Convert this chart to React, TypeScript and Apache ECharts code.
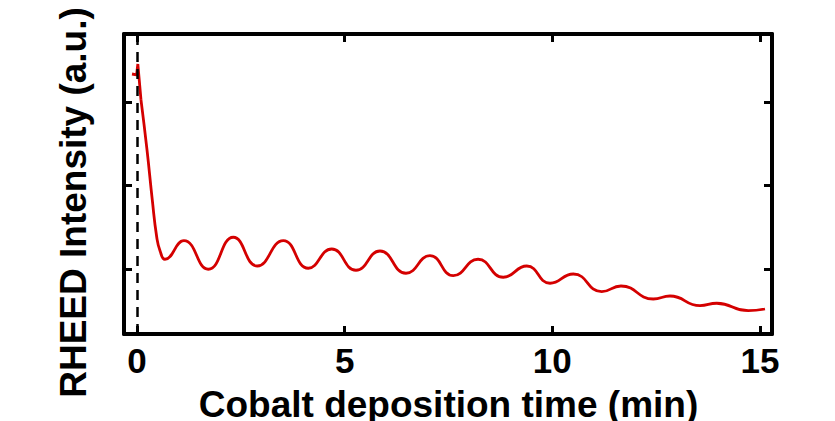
import React, { useEffect, useRef } from "react";
import * as echarts from "echarts";

// Initial spike at shutter opening (min, a.u.)
const spikeTime = [-0.12, -0.01, 0.02, 0.096];
const spikeIntensity = [3.12, 3.11, 3.24, 2.809];

// RHEED oscillations during Co deposition (min, a.u.)
const decayTime = [
  0.096, 0.241, 0.368, 0.474, 0.554, 0.674, 1.13, 1.717, 2.319, 2.897, 3.523,
  4.125, 4.688, 5.273, 5.851, 6.477, 7.055, 7.616, 8.211, 8.82, 9.384, 9.945,
  10.506, 11.19, 11.654, 12.432, 12.834, 13.556, 13.959, 14.719, 15.121,
];
const decayIntensity = [
  2.809, 2.209, 1.609, 1.168, 1.0, 0.897, 1.12, 0.777, 1.161, 0.816, 1.12,
  0.789, 1.02, 0.765, 0.996, 0.729, 0.94, 0.7, 0.897, 0.681, 0.816, 0.609,
  0.72, 0.508, 0.576, 0.42, 0.456, 0.34, 0.369, 0.28, 0.3,
];

const xTicks = [0, 5, 10, 15];
const yTicks = [0.78, 1.78, 2.78];
const shutterTime = 0;

const xTitle = "Cobalt deposition time (min)";
const yTitle = "RHEED Intensity (a.u.)";

const FONT = "'Liberation Sans', Arial, Helvetica, sans-serif";
const RED = "#d40000";

export default function App() {
  const ref = useRef<HTMLDivElement>(null);
  useEffect(() => {
    if (!ref.current) return;
    const chart = echarts.init(ref.current, undefined, { renderer: "svg" });
    const axisLine = { show: true, onZero: false, lineStyle: { color: "#000", width: 4 } };
    const xTick = { show: true, inside: true, length: 8, lineStyle: { color: "#000", width: 3 }, customValues: xTicks };
    const yTick = { show: true, inside: true, length: 8, lineStyle: { color: "#000", width: 3 }, customValues: yTicks };
    chart.setOption({
      animation: false,
      backgroundColor: "#fff",
      grid: { left: 124, top: 34, right: 63, bottom: 87, containLabel: false },
      xAxis: [
        {
          type: "value",
          position: "bottom",
          min: -0.313,
          max: 15.29,
          axisLine,
          axisTick: xTick,
          splitLine: { show: false },
          axisLabel: {
            show: true,
            customValues: xTicks,
            margin: 9,
            color: "#000",
            fontSize: 35,
            fontWeight: "bold",
            fontFamily: FONT,
          },
        },
        {
          type: "value",
          position: "top",
          min: -0.313,
          max: 15.29,
          axisLine,
          axisTick: xTick,
          splitLine: { show: false },
          axisLabel: { show: false },
        },
      ],
      yAxis: [
        {
          type: "value",
          position: "left",
          min: 0,
          max: 3.6,
          axisLine,
          axisTick: yTick,
          splitLine: { show: false },
          axisLabel: { show: false },
        },
        {
          type: "value",
          position: "right",
          min: 0,
          max: 3.6,
          axisLine,
          axisTick: yTick,
          splitLine: { show: false },
          axisLabel: { show: false },
        },
      ],
      series: [
        {
          type: "line",
          data: spikeTime.map((t, i) => [t, spikeIntensity[i]]),
          showSymbol: false,
          smooth: false,
          lineStyle: { color: RED, width: 2.8 },
          z: 3,
        },
        {
          type: "line",
          data: decayTime.map((t, i) => [t, decayIntensity[i]]),
          showSymbol: false,
          smooth: 0.5,
          lineStyle: { color: RED, width: 2.8 },
          z: 3,
          markLine: {
            silent: true,
            symbol: "none",
            label: { show: false },
            lineStyle: { color: "#000", width: 2.5, type: [10, 7] },
            data: [{ xAxis: shutterTime }],
          },
        },
      ],
      graphic: [
        {
          type: "text",
          x: 448.5,
          y: 404,
          style: {
            text: xTitle,
            fill: "#000",
            font: `bold 37px ${FONT}`,
            align: "center",
            verticalAlign: "middle",
          },
        },
        {
          type: "text",
          x: 73,
          y: 202.5,
          rotation: Math.PI / 2,
          style: {
            text: yTitle,
            fill: "#000",
            font: `bold 37px ${FONT}`,
            align: "center",
            verticalAlign: "middle",
          },
        },
      ],
    });
    return () => chart.dispose();
  }, []);
  return (
    <div
      ref={ref}
      style={{ position: "fixed", left: 0, top: 0, width: 835, height: 421 }}
    />
  );
}
